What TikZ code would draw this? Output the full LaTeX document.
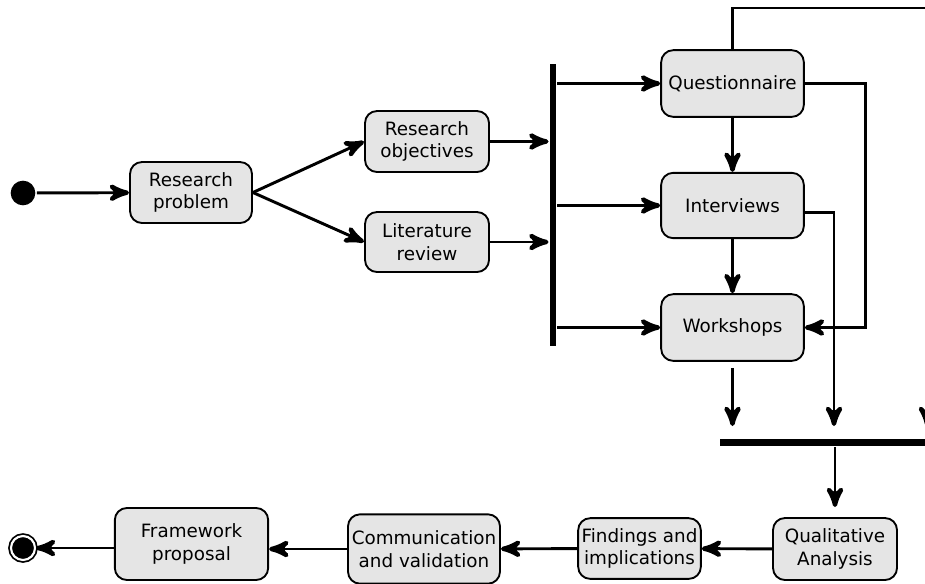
\documentclass[tikz,border=0pt]{standalone}
\usepackage{fontspec}
\setmainfont{DejaVu Sans}
\usepackage{tikz}
\usetikzlibrary{arrows}
\usetikzlibrary{decorations.markings}
\usetikzlibrary{positioning}
\tikzset{->/.style = {decoration={markings,
                                  mark=at position 1 with {\arrow[scale=1.5]{stealth'}}},
                      postaction={decorate}, shorten >= 3pt}}
\tikzset{activity/.style = {draw, rounded corners = 9pt, fill = black!10, line width = 1.4pt,
                            align = center, inner sep = 1.5pt,
                            font = \fontsize{13.75}{17}\selectfont}}
\tikzset{bar/.style = {fill, rectangle, inner sep = 0}}
\tikzset{start/.style = {fill, circle, inner sep = 0, minimum size = 18.5pt}}
\tikzset{stop/.style = {fill, draw, double, double distance = 1.6pt, line width = 1.3pt,
                        circle, inner sep = 0, minimum size = 18pt}}

\begin{document}
\begin{tikzpicture}[x = 0.75pt, y = -0.75pt, line width = 2.2pt]
      \useasboundingbox (0, 0) rectangle (925, 583);
      \clip (0, 0) rectangle (925, 583);

      \node [start] (init) at (23, 193) {};
      \node [activity, minimum width = 91.5pt, minimum height = 45.75pt] (problem) at (191, 192.5) {Research\\problem};
      \node [activity, minimum width = 93pt, minimum height = 45.75pt] (objectives) at (427, 141.5) {Research\\objectives};
      \node [activity, minimum width = 93pt, minimum height = 45pt] (review) at (427, 242) {Literature\\review};

      \node [bar, minimum width = 4.5pt, minimum height = 211.5pt] (fork) at (553, 205) {};

      \node [activity, minimum width = 107pt, minimum height = 50pt] (quest) at (732.5, 83.5) {Questionnaire};
      \node [activity, minimum width = 107pt, minimum height = 49pt] (inter) at (732.5, 205.5) {Interviews};
      \node [activity, minimum width = 107pt, minimum height = 50pt] (work) at (732.5, 327.5) {Workshops};

      \node [bar, minimum width = 157.5pt, minimum height = 5pt] (join) at (825, 442.5) {};
      \coordinate (inend) at (834, 426);
      \coordinate (qend) at (927, 426);

      \node [activity, minimum width = 93pt, minimum height = 46.5pt] (qual) at (835, 549) {Qualitative\\Analysis};
      \node [activity, minimum width = 92pt, minimum height = 45.5pt] (find) at (639.5, 548.5) {Findings and\\implications};
      \node [activity, minimum width = 114pt, minimum height = 52pt] (comm) at (424, 549) {Communication\\and validation};
      \node [activity, minimum width = 115pt, minimum height = 54pt] (frame) at (191.5, 544) {Framework\\proposal};
      \node [stop] (final) at (23, 548) {};

      \draw [->] (init) -- (problem);
      \draw [->] (problem.east) -- (objectives.west);
      \draw [->] (problem.east) -- (review.west);
      \draw [->] (objectives.east) -- (objectives.east -| fork.west);
      \draw [->] (review.east) -- (review.east -| fork.west);

      \draw [->] (fork.east |- quest.west) -- (quest.west);
      \draw [->] (fork.east |- inter.west) -- (inter.west);
      \draw [->] (fork.east |- work.west) -- (work.west);
      \draw [->] (quest) -- (inter);
      \draw [->] (inter) -- (work);

      \draw [->] (quest.north) |- (qend |- 0, 8) -- (qend);
      \draw [->] (quest.east) -- ++(61, 0) |- (work.east);
      \draw [->] ([yshift = -5pt]inter.east) -| (inend);
      \draw [->] ([yshift = -4.5pt]work.south) -- (work.south |- inend);

      \draw [->] (join.south -| qual.north) -- ([yshift = 7.5pt]qual.north);
      \draw [->] (qual) -- (find);
      \draw [->] (find) -- (comm);
      \draw [->] (comm.west) -- (comm.west -| frame.east);
      \draw [->] (frame.west |- final) -- (final);
\end{tikzpicture}
\end{document}
